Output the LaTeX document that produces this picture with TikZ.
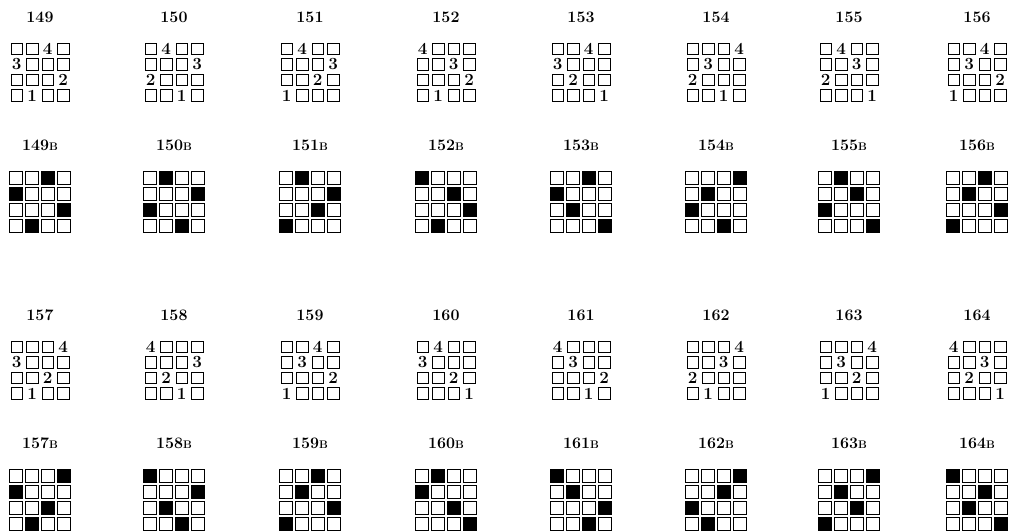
\documentclass[tikz,border=0pt]{standalone}
\usetikzlibrary{positioning}
\begin{document}
\begin{tikzpicture}[x=1pt, y=-1pt,
  numlabel/.style={font=\fontsize{16}{16}\selectfont\bfseries, inner sep=0pt},
  digit/.style={font=\fontsize{17}{17}\selectfont\bfseries, inner sep=0pt},
  cell/.style={draw=black, line width=1pt, minimum size=11.5pt, inner sep=0pt},
  blkcell/.style={draw=black, line width=1pt, minimum size=13pt, inner sep=0pt},
  filled/.style={fill=black}
]
\useasboundingbox (0,0) rectangle (1013,531);
% numbered grid, then its B grid below
\foreach \id/\px/\py/\perm in {
  149/40/17/{3,1,4,2}, 150/174/17/{2,4,1,3}, 151/310/17/{2,4,3,1}, 152/446/17/{1,3,4,2},
  153/581/17/{3,1,2,4}, 154/716/17/{4,2,1,3}, 155/849/17/{2,3,1,4}, 156/977/17/{3,2,4,1},
  157/40/315/{4,1,3,2}, 158/174/315/{1,4,2,3}, 159/310/315/{3,2,4,1}, 160/446/315/{2,1,3,4},
  161/581/315/{1,2,4,3}, 162/716/315/{4,3,1,2}, 163/849/315/{4,2,3,1}, 164/977/315/{1,3,2,4}}{
  \node[numlabel] (n\id) at (\px,\py) {\id};
  \node[numlabel] (n\id-b) at (\px,{\py+128}) {\id{\fontsize{11}{11}\selectfont B}};
  \foreach \c [count=\r] in \perm {
    \foreach \k in {1,...,4} {
      \ifnum\k=\c
        \node[digit] (d\id-\r) at ({\px+(\k-2.5)*15.5},{\py+32+(\r-1)*15.5}) {\the\numexpr5-\r\relax};
        \node[blkcell, filled] (b\id-\r-\k) at ({\px+(\k-2.5)*15.7},{\py+161+(\r-1)*16}) {};
      \else
        \node[cell] (c\id-\r-\k) at ({\px+(\k-2.5)*15.5},{\py+32+(\r-1)*15.5}) {};
        \node[blkcell] (b\id-\r-\k) at ({\px+(\k-2.5)*15.7},{\py+161+(\r-1)*16}) {};
      \fi
    }
  }
}
\end{tikzpicture}
\end{document}
